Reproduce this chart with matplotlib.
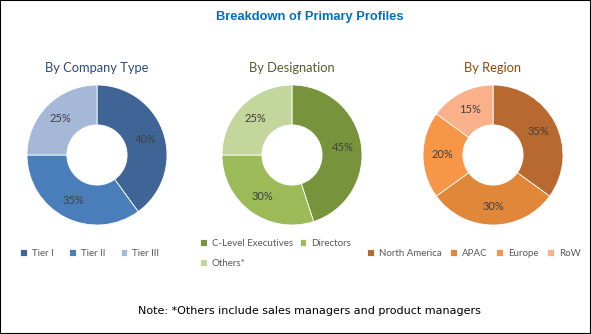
import matplotlib.pyplot as plt
from matplotlib.patches import Rectangle

# Data
company_labels = ['Tier I', 'Tier II', 'Tier III']
company_values = [40, 35, 25]
company_colors = ['#3F6597', '#4A7EBB', '#A6B8D8']

designation_labels = ['C-Level Executives', 'Directors', 'Others*']
designation_values = [45, 30, 25]
designation_colors = ['#77933C', '#9BBB59', '#C3D69B']

region_labels = ['North America', 'APAC', 'Europe', 'RoW']
region_values = [35, 30, 20, 15]
region_colors = ['#B8692F', '#E0873A', '#F79646', '#FAB08A']

W, H = 591, 334
fig = plt.figure(figsize=(W / 100, H / 100), dpi=100)
plt.rcParams['font.family'] = ['Lato', 'DejaVu Sans']


def donut(cx, cy, r, values, colors, labels, title, title_color,
          legend_xy, legend_ncol, colspace, order=None):
    ax = fig.add_axes([(cx - r) / W, (H - cy - r) / H, 2 * r / W, 2 * r / H])
    wedges, _, autotexts = ax.pie(values, colors=colors, startangle=90,
                                  counterclock=False, radius=1,
                                  autopct='%d%%', pctdistance=0.73,
                                  wedgeprops=dict(width=0.57, edgecolor='white',
                                                  linewidth=0.6),
                                  textprops=dict(fontsize=8, color='#404040'))
    ax.set_xlim(-1, 1)
    ax.set_ylim(-1, 1)
    ax.axis('off')
    fig.text(cx / W, 1 - 68 / H, title, ha='center', va='center',
             fontsize=9.3, color=title_color)
    if order is None:
        order = range(len(labels))
    fig.legend([wedges[i] for i in order], [labels[i] for i in order],
               loc='center left', ncol=legend_ncol,
               bbox_to_anchor=(legend_xy[0] / W, 1 - legend_xy[1] / H),
               frameon=False, borderaxespad=0, borderpad=0,
               fontsize=7, handlelength=0.7, handleheight=0.7,
               handletextpad=0.5, columnspacing=colspace, labelspacing=1.1,
               labelcolor='#595959')


donut(97, 155, 70, company_values, company_colors, company_labels,
      'By Company Type', '#2E4A7D', (20, 253), 3, 1.6)
donut(292, 155, 70, designation_values, designation_colors, designation_labels,
      'By Designation', '#4F6228', (200, 253.5), 2, 0.7, order=[0, 2, 1])
donut(493, 155, 70, region_values, region_colors, region_labels,
      'By Region', '#974706', (367, 253), 4, 0.9)

fig.text(310 / W, 1 - 17 / H, 'Breakdown of Primary Profiles', ha='center',
         va='center', fontsize=9.3, fontweight='bold', color='#0070C0',
         family='Liberation Sans')
fig.text(309 / W, 1 - 311 / H,
         'Note: *Others include sales managers and product managers',
         ha='center', va='center', fontsize=8, color='black',
         family='DejaVu Sans')

fig.patches.append(Rectangle((0, 0), 1, 1, transform=fig.transFigure,
                             fill=False, edgecolor='black', linewidth=1.5))

fig.savefig('out.png', dpi=100)
